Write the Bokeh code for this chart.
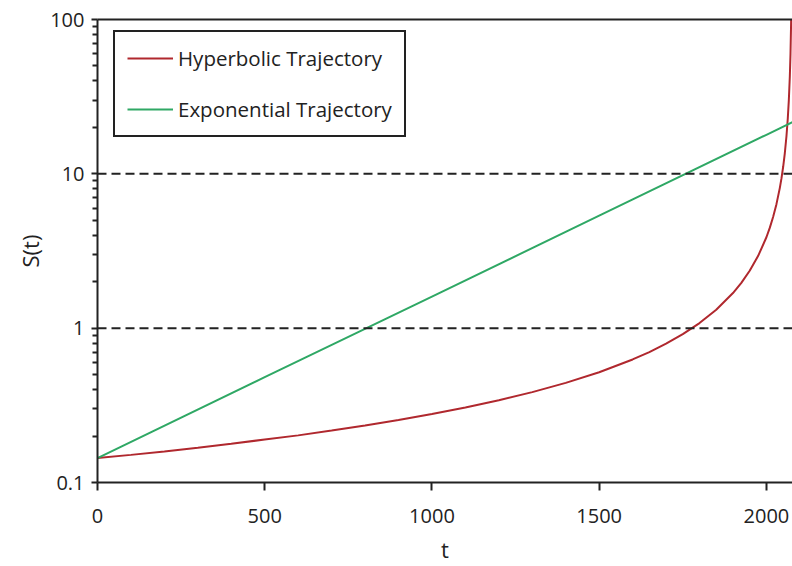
from bokeh.plotting import figure
from bokeh.models import Range1d, FixedTicker, Span, Legend, LegendItem, LinearAxis
from bokeh.embed import file_html
from bokeh.resources import INLINE

# Data
t_hyper = [0, 100, 200, 300, 400, 500, 600, 700, 800, 900, 1000, 1100, 1200, 1300,
           1400, 1500, 1600, 1650, 1700, 1750, 1800, 1850, 1900, 1925, 1950, 1975,
           2000, 2010, 2020, 2030, 2040, 2045, 2050, 2055, 2060, 2064, 2067, 2070,
           2072, 2074, 2075]
s_hyper = [0.144, 0.151, 0.159, 0.168, 0.178, 0.190, 0.202, 0.217, 0.234, 0.254,
           0.278, 0.306, 0.341, 0.385, 0.442, 0.518, 0.627, 0.700, 0.793, 0.914,
           1.079, 1.317, 1.689, 1.967, 2.354, 2.931, 3.883, 4.463, 5.246, 6.362,
           8.081, 9.344, 11.07, 13.59, 17.59, 23.0, 29.9, 42.7, 59.8, 99.7, 149.5]

t_exp = [0, 500, 1000, 1500, 2000, 2080]
s_exp = [0.144, 0.481, 1.60, 5.36, 17.9, 21.7]

y_major = [0.1, 1, 10, 100]
y_labels = {0.1: "0.1", 1: "1", 10: "10", 100: "100"}
x_major = [0, 500, 1000, 1500, 2000]
ref_levels = [1, 10]

FONT = "Open Sans"
RED = "#B0282E"
GREEN = "#2FA865"

p = figure(width=792, height=566, y_axis_type="log",
           x_range=Range1d(0, 2078), y_range=Range1d(0.1, 100),
           output_backend="svg", toolbar_location=None,
           min_border_left=97, min_border_right=0, min_border_top=19,
           min_border_bottom=81)
p.outline_line_color = None
p.grid.visible = False
p.background_fill_color = "white"
p.border_fill_color = "white"

for lv in ref_levels:
    p.add_layout(Span(location=lv, dimension="width", line_color="#222222",
                      line_width=2, line_dash="9 5"))

r1 = p.line(t_hyper, s_hyper, line_color=RED, line_width=2)
r2 = p.line(t_exp, s_exp, line_color=GREEN, line_width=2)

# y axis
ya = p.yaxis[0]
minor = []
for dec in [0.1, 1, 10]:
    for k in range(2, 10):
        minor.append(round(dec * k, 6))
ya.ticker = FixedTicker(ticks=y_major, minor_ticks=minor)
ya.major_label_overrides = y_labels
ya.axis_label = "S(t)"

# x axis
xa = p.xaxis[0]
xa.ticker = FixedTicker(ticks=x_major)
xa.axis_label = "t"
xa.minor_tick_line_color = None

for ax in [xa, ya]:
    ax.axis_line_color = "#222222"
    ax.axis_line_width = 2
    ax.major_tick_line_color = "#222222"
    ax.major_tick_line_width = 2
    ax.major_tick_out = 6
    ax.major_tick_in = 0
    ax.major_label_text_font = FONT
    ax.major_label_text_font_size = "20px"
    ax.major_label_text_color = "#222222"
    ax.axis_label_text_font = FONT
    ax.axis_label_text_font_size = "22px"
    ax.axis_label_text_font_style = "normal"
    ax.axis_label_text_color = "#222222"

ya.minor_tick_line_color = "#222222"
ya.minor_tick_line_width = 2
ya.minor_tick_out = 5
ya.minor_tick_in = 0
ya.major_label_standoff = 7
ya.axis_label_standoff = 2
xa.major_tick_out = 8
xa.major_label_standoff = 18
xa.axis_label_standoff = 8

# top border line
top = LinearAxis(ticker=FixedTicker(ticks=[]), axis_line_color="#222222",
                 axis_line_width=2, major_tick_line_color=None,
                 minor_tick_line_color=None, major_label_text_font_size="0px")
p.add_layout(top, "above")

legend = Legend(items=[LegendItem(label="Hyperbolic Trajectory", renderers=[r1]),
                       LegendItem(label="Exponential Trajectory", renderers=[r2])],
                location=(16, 345))
legend.margin = 0
legend.padding = 12
legend.spacing = 23
legend.glyph_width = 46
legend.glyph_height = 20
legend.label_height = 20
legend.label_standoff = 5
legend.label_text_font = FONT
legend.label_text_font_size = "20.5px"
legend.label_text_color = "#222222"
legend.border_line_color = "#222222"
legend.border_line_alpha = 1
legend.border_line_width = 2
legend.background_fill_color = "white"
legend.background_fill_alpha = 1
p.add_layout(legend, "center")

open("out.html", "w").write(file_html(p, INLINE))
